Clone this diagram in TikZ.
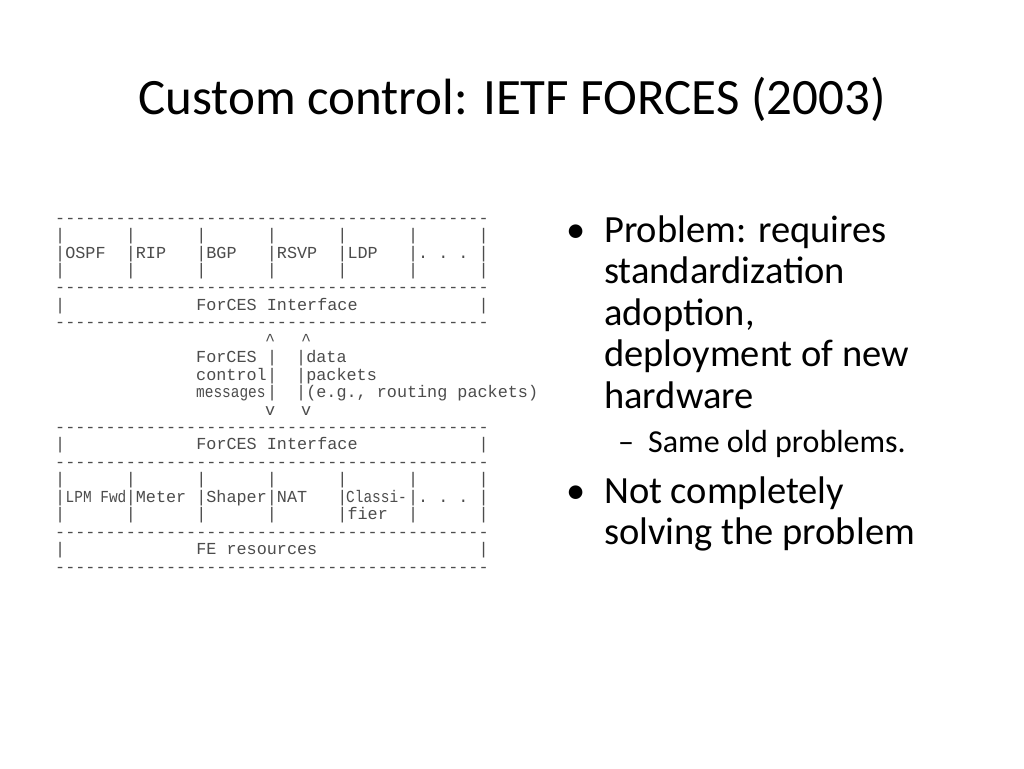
\documentclass[tikz,border=0pt]{standalone}
\usepackage{fontspec}
\setmainfont{Carlito}
\newfontfamily\mono{Liberation Mono}
\def\dd{-\kern0pt}
\def\ddx{\dd\dd\dd\dd\dd\dd\dd\dd\dd\dd}
\def\dashes{\ddx\ddx\ddx\ddx\dd\dd\dd}
\newcommand{\sq}[1]{\scalebox{0.86}[1]{\mono\fontsize{16.8}{17}\selectfont #1}}
\begin{document}
\begin{tikzpicture}[x=1pt,y=-1pt,
  asc/.style={anchor=base west,inner sep=0pt,font=\mono\fontsize{16.8}{17}\selectfont,text=black!70},
  bul/.style={anchor=base west,inner sep=0pt,font=\fontsize{38.5}{38.5}\selectfont},
  sub/.style={anchor=base west,inner sep=0pt,font=\fontsize{32}{32}\selectfont}]
\useasboundingbox[fill=white] (0,0) rectangle (1024,768);
\node[anchor=base,inner sep=0pt,font=\fontsize{51}{51}\selectfont] (title) at (512,114) {Custom control: IETF FORCES (2003)};
\node[asc] (r0) at (55,223) {\dashes};
\node[asc] (r1) at (55,240.5) {|~~~~~~|~~~~~~|~~~~~~|~~~~~~|~~~~~~|~~~~~~|};
\node[asc] (r2) at (55,258) {|OSPF~~|RIP~~~|BGP~~~|RSVP~~|LDP~~~|.~.~.~|};
\node[asc] (r3) at (55,275.4) {|~~~~~~|~~~~~~|~~~~~~|~~~~~~|~~~~~~|~~~~~~|};
\node[asc] (r4) at (55,292.8) {\dashes};
\node[asc] (r5) at (55,310.3) {|~~~~~~~~~~~~~ForCES~Interface~~~~~~~~~~~~|};
\node[asc] (r6) at (55,327.7) {\dashes};
\node[asc] (c1) at (265,345.2) {\^{}};
\node[asc] (c2) at (301,345.2) {\^{}};
\node[asc] (w1) at (196,362.6) {ForCES};
\node[asc] (w2) at (196,380) {control};
\node[asc] (w3) at (196,397.5) {\sq{messages}};
\node[asc] (p1) at (267,362.6) {|};
\node[asc] (p2) at (267,380) {|};
\node[asc] (p3) at (267,397.5) {|};
\node[asc] (q1) at (296,362.6) {|data};
\node[asc] (q2) at (296,380) {|packets};
\node[asc] (q3) at (296,397.5) {|(e.g.,~routing~packets)};
\node[asc] (v1) at (265,415) {v};
\node[asc] (v2) at (301,415) {v};
\node[asc] (r12) at (55,432.4) {\dashes};
\node[asc] (r13) at (55,449.8) {|~~~~~~~~~~~~~ForCES~Interface~~~~~~~~~~~~|};
\node[asc] (r14) at (55,467.3) {\dashes};
\node[asc] (r15) at (55,484.8) {|~~~~~~|~~~~~~|~~~~~~|~~~~~~|~~~~~~|~~~~~~|};
\node[asc] (r16) at (55,502.2) {|~~~~~~|Meter~|Shaper|NAT~~~|~~~~~~|.~.~.~|};
\node[asc] (lpm) at (65.5,502.2) {\sq{LPM~Fwd}};
\node[asc] (cls) at (346,502.2) {\sq{Classi-}};
\node[asc] (r17) at (55,519.6) {|~~~~~~|~~~~~~|~~~~~~|~~~~~~|fier~~|~~~~~~|};
\node[asc] (r18) at (55,537) {\dashes};
\node[asc] (r19) at (55,554.5) {|~~~~~~~~~~~~~FE~resources~~~~~~~~~~~~~~~~|};
\node[asc] (r20) at (55,572) {\dashes};
\node[bul] (b1) at (566,242) {•};
\node[bul] (t1) at (604,242) {Problem: requires};
\node[bul] (t2) at (604,283.5) {standardization};
\node[bul] (t3) at (604,325) {adoption,};
\node[bul] (t4) at (604,366.5) {deployment of new};
\node[bul] (t5) at (604,408) {hardware};
\node[sub] (d1) at (618,452) {–};
\node[sub] (s1) at (648,452) {Same old problems.};
\node[bul] (b2) at (566,503) {•};
\node[bul] (t6) at (604,503) {Not completely};
\node[bul] (t7) at (604,544.5) {solving the problem};
\end{tikzpicture}
\end{document}
